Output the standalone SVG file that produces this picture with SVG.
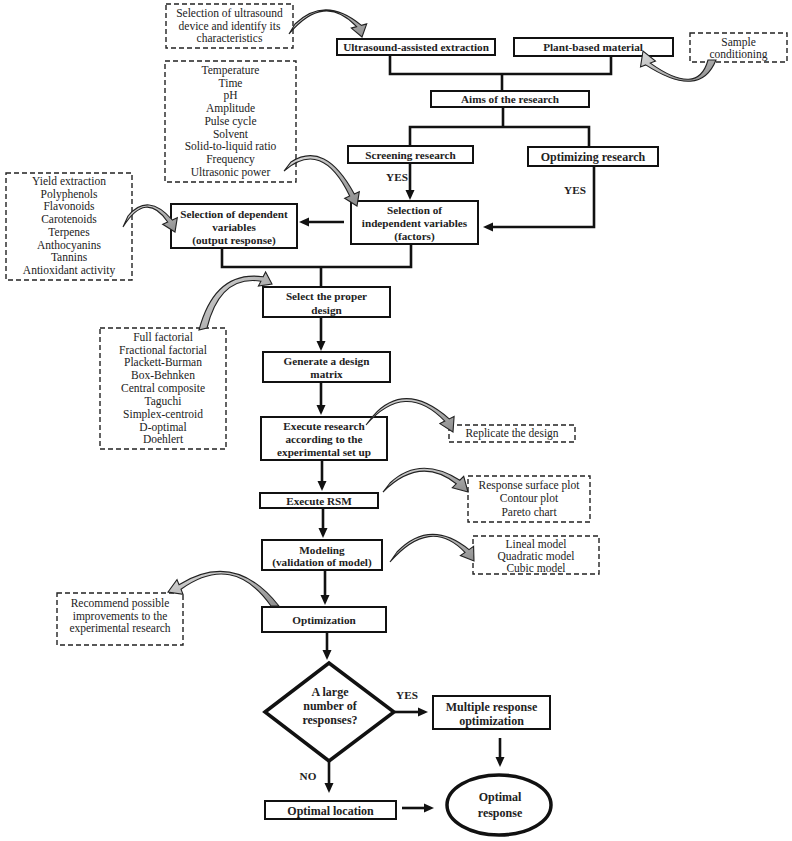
<svg xmlns="http://www.w3.org/2000/svg" width="792" height="841" viewBox="0 0 792 841">
<defs>
<style>
.box{fill:#fff;stroke:#111;stroke-width:2}
.dash{fill:#fff;stroke:#222;stroke-width:1.4;stroke-dasharray:5 3}
.t{font-family:"Liberation Serif","Times New Roman",serif;font-size:11.5px;fill:#222;text-anchor:middle}
.b{font-weight:bold;font-size:11.2px}
.b12{font-weight:bold;font-size:12px}
.ln{fill:none;stroke:#111;stroke-width:2.6}
.ar{marker-end:url(#ah)}
.ca{fill:url(#g);stroke:#222;stroke-width:1.1}
</style>
<marker id="ah" viewBox="0 0 10 10" refX="2" refY="5" markerWidth="10" markerHeight="10" markerUnits="userSpaceOnUse" orient="auto">
<path d="M0,0.5 L10,5 L0,9.5 Z" fill="#111"/>
</marker>
<linearGradient id="g" x1="0" y1="0" x2="1" y2="1">
<stop offset="0" stop-color="#dcdcdc"/>
<stop offset="1" stop-color="#8c8c8c"/>
</linearGradient>
</defs>
<rect width="792" height="841" fill="#fff"/>

<g id="n-ultra-device">
<rect class="dash" x="166" y="4" width="127" height="44"/>
<text class="t"><tspan x="229.5" y="17">Selection of ultrasound</tspan><tspan x="229.5" y="30">device and identify its</tspan><tspan x="229.5" y="42">characteristics</tspan></text>
</g>
<g id="n-uae">
<rect class="box" x="337" y="39" width="158" height="16"/>
<text class="t b" x="416" y="51">Ultrasound-assisted extraction</text>
</g>
<g id="n-plant">
<rect class="box" x="514" y="38" width="159" height="18"/>
<text class="t b" x="593" y="51">Plant-based material</text>
</g>
<g id="n-sample">
<rect class="dash" x="690" y="33" width="97" height="29"/>
<text class="t"><tspan x="738.5" y="46">Sample</tspan><tspan x="738.5" y="58">conditioning</tspan></text>
</g>
<g id="n-aims">
<rect class="box" x="431" y="91" width="158" height="16"/>
<text class="t b" x="510" y="103">Aims of the research</text>
</g>
<g id="n-factors-list">
<rect class="dash" x="165" y="61" width="131" height="121"/>
<text class="t"><tspan x="230.5" y="74">Temperature</tspan><tspan x="230.5" y="86.7">Time</tspan><tspan x="230.5" y="99.4">pH</tspan><tspan x="230.5" y="112.1">Amplitude</tspan><tspan x="230.5" y="124.8">Pulse cycle</tspan><tspan x="230.5" y="137.5">Solvent</tspan><tspan x="230.5" y="150.2">Solid-to-liquid ratio</tspan><tspan x="230.5" y="162.9">Frequency</tspan><tspan x="230.5" y="175.6">Ultrasonic power</tspan></text>
</g>
<g id="n-screening">
<rect class="box" x="348" y="146" width="125" height="17"/>
<text class="t b" x="410.5" y="158.5">Screening research</text>
</g>
<g id="n-optimizing">
<rect class="box" x="528" y="147" width="130" height="19"/>
<text class="t b12" x="593" y="161">Optimizing research</text>
</g>
<g id="n-responses-list">
<rect class="dash" x="6" y="173" width="126" height="107"/>
<text class="t"><tspan x="69" y="184.7">Yield extraction</tspan><tspan x="69" y="197.5">Polyphenols</tspan><tspan x="69" y="210.2">Flavonoids</tspan><tspan x="69" y="223">Carotenoids</tspan><tspan x="69" y="235.8">Terpenes</tspan><tspan x="69" y="248.5">Anthocyanins</tspan><tspan x="69" y="261.3">Tannins</tspan><tspan x="69" y="274">Antioxidant activity</tspan></text>
</g>
<g id="n-dependent">
<rect class="box" x="171" y="204" width="126" height="44"/>
<text class="t b"><tspan x="234" y="217.5">Selection of dependent</tspan><tspan x="234" y="230.5">variables</tspan><tspan x="234" y="244">(output response)</tspan></text>
</g>
<g id="n-independent">
<rect class="box" x="351" y="201" width="127" height="43"/>
<text class="t b"><tspan x="414.5" y="214">Selection of</tspan><tspan x="414.5" y="227">independent variables</tspan><tspan x="414.5" y="240">(factors)</tspan></text>
</g>
<g id="n-designs-list">
<rect class="dash" x="100" y="328" width="126" height="121"/>
<text class="t"><tspan x="163" y="340.7">Full factorial</tspan><tspan x="163" y="353.5">Fractional factorial</tspan><tspan x="163" y="366.4">Plackett-Burman</tspan><tspan x="163" y="379.2">Box-Behnken</tspan><tspan x="163" y="392">Central composite</tspan><tspan x="163" y="404.8">Taguchi</tspan><tspan x="163" y="417.7">Simplex-centroid</tspan><tspan x="163" y="430.5">D-optimal</tspan><tspan x="163" y="443.3">Doehlert</tspan></text>
</g>
<g id="n-select-design">
<rect class="box" x="263" y="287" width="127" height="30"/>
<text class="t b"><tspan x="326.5" y="300">Select the proper</tspan><tspan x="326.5" y="313.5">design</tspan></text>
</g>
<g id="n-generate">
<rect class="box" x="263" y="352" width="127" height="30"/>
<text class="t b"><tspan x="326.5" y="365">Generate a design</tspan><tspan x="326.5" y="377.5">matrix</tspan></text>
</g>
<g id="n-execute">
<rect class="box" x="261" y="417" width="126" height="43"/>
<text class="t b"><tspan x="324" y="430">Execute research</tspan><tspan x="324" y="443">according to the</tspan><tspan x="324" y="456">experimental set up</tspan></text>
</g>
<g id="n-replicate">
<rect class="dash" x="449" y="425" width="126" height="17"/>
<text class="t" x="512" y="437">Replicate the design</text>
</g>
<g id="n-rsm">
<rect class="box" x="260" y="493" width="118" height="15"/>
<text class="t b" x="319" y="505">Execute RSM</text>
</g>
<g id="n-plots">
<rect class="dash" x="468" y="476" width="122" height="46"/>
<text class="t"><tspan x="529" y="489">Response surface plot</tspan><tspan x="529" y="502">Contour  plot</tspan><tspan x="529" y="515.5">Pareto chart</tspan></text>
</g>
<g id="n-modeling">
<rect class="box" x="262" y="540" width="120" height="30"/>
<text class="t b"><tspan x="322" y="554">Modeling</tspan><tspan x="322" y="566">(validation of model)</tspan></text>
</g>
<g id="n-models">
<rect class="dash" x="473" y="536" width="126" height="38"/>
<text class="t"><tspan x="536" y="548">Lineal model</tspan><tspan x="536" y="560">Quadratic model</tspan><tspan x="536" y="571.5">Cubic model</tspan></text>
</g>
<g id="n-recommend">
<rect class="dash" x="57" y="593" width="126" height="52"/>
<text class="t"><tspan x="120" y="607">Recommend possible</tspan><tspan x="120" y="619.5">improvements to the</tspan><tspan x="120" y="632">experimental research</tspan></text>
</g>
<g id="n-optimization">
<rect class="box" x="262" y="607" width="124" height="25"/>
<text class="t b" x="324" y="624">Optimization</text>
</g>
<g id="n-decision">
<polygon points="265,712 329,663 394,712 329,761" fill="#fff" stroke="#111" stroke-width="3.5" stroke-linejoin="miter"/>
<text class="t b12"><tspan x="330" y="696">A large</tspan><tspan x="330" y="710">number of</tspan><tspan x="330" y="724">responses?</tspan></text>
</g>
<g id="n-multiple">
<rect class="box" x="433" y="696" width="117" height="33"/>
<text class="t b12"><tspan x="491.5" y="711">Multiple response</tspan><tspan x="491.5" y="725">optimization</tspan></text>
</g>
<g id="n-location">
<rect class="box" x="265" y="801" width="131" height="18"/>
<text class="t b12" x="330.5" y="814.5">Optimal location</text>
</g>
<g id="n-optimal-response">
<ellipse cx="499" cy="805" rx="52" ry="30" fill="#fff" stroke="#111" stroke-width="3.5"/>
<text class="t b12"><tspan x="500" y="801">Optimal</tspan><tspan x="500" y="817">response</tspan></text>
</g>

<g id="connectors">
<path class="ln" d="M390,55 V74 H611 V56"/>
<path class="ln" d="M502,74 V91"/>
<path class="ln" d="M503,107 V127"/>
<path class="ln" d="M410,146 V127 H589 V147"/>
<path class="ln ar" d="M410,163 V192"/>
<path class="ln ar" d="M594,166 V227 H491"/>
<path class="ln ar" d="M344,222 H307"/>
<path class="ln" d="M222,248 V267 H411 V244"/>
<path class="ln" d="M321,267 V287"/>
<path class="ln ar" d="M321,317 V343"/>
<path class="ln ar" d="M321,382 V407"/>
<path class="ln ar" d="M322,460 V483"/>
<path class="ln ar" d="M323,508 V530"/>
<path class="ln ar" d="M325,570 V597"/>
<path class="ln ar" d="M327,632 V652"/>
<path class="ln ar" d="M395,712 H420"/>
<path class="ln ar" d="M500,738 V759"/>
<path class="ln ar" d="M329,761 V785"/>
<path class="ln ar" d="M402,808 H426"/>
<text class="t b" x="397" y="181">YES</text>
<text class="t b" x="575" y="194">YES</text>
<text class="t b" x="407" y="699">YES</text>
<text class="t b" x="308" y="780">NO</text>
<path class="ca" d="M295,24 Q325,-5 361.4,25.4 L366.7,23.9 L362,37 L351.3,28.1 L356.6,26.6 Q324,-8 289,34 Z"/>
<path class="ca" d="M716,60 Q700,100 645.7,64.9 L640.5,66.9 L643,51 L655.5,61.1 L650.3,63.1 Q698,97 708,60 Z"/>
<path class="ca" d="M291,162 Q325,140 354.3,194 L359.3,191.7 L357,206 L344.7,198.3 L349.7,196 Q322,138 284,171 Z"/>
<path class="ca" d="M128,216 Q148,192 172.3,220 L177.3,217.7 L175,232 L162.7,224.3 L167.7,222 Q146,190 123,227 Z"/>
<path class="ca" d="M199,330 Q215,270 263.1,276.8 L265.6,271.9 L272,284 L258.4,286.1 L260.9,281.2 Q220,275 207,328 Z"/>
<path class="ca" d="M373,416 Q405,380 449.2,418.9 L454.1,416.4 L453,432 L439.9,423.6 L444.8,421.1 Q405,380 366,425 Z"/>
<path class="ca" d="M390,483 Q420,455 459.8,480.2 L463.7,476.3 L468,492 L452.3,487.7 L456.2,483.8 Q420,455 383,492 Z"/>
<path class="ca" d="M397,552 Q430,518 469,549.6 L473.6,546.4 L474,561 L460.4,555.6 L465,552.4 Q430,516 390,562 Z"/>
<path class="ca" d="M279,606 Q235,550 179,584.7 L177,579.6 L168,592 L183,594.4 L181,589.3 Q233,552 271,606 Z"/>
</g>
</svg>
